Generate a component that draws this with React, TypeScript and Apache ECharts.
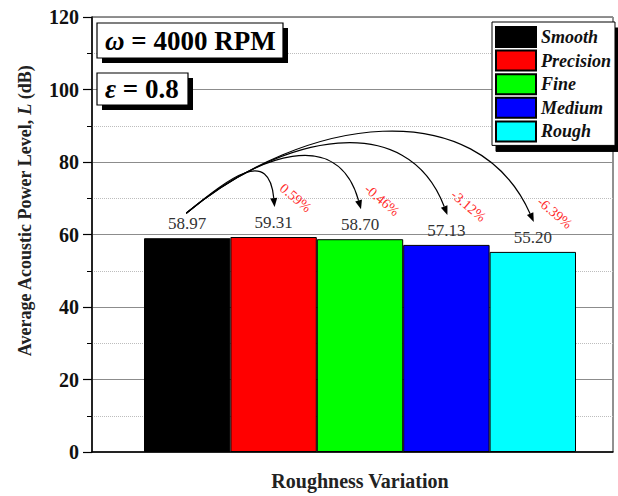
import React, { useEffect, useRef } from 'react';
import * as echarts from 'echarts';

const categories = ['Smooth', 'Precision', 'Fine', 'Medium', 'Rough'];
const values = [58.97, 59.31, 58.7, 57.13, 55.2];
const barColors = ['#000000', '#ff0000', '#00ff00', '#0000ff', '#00ffff'];
const changeLabels = ['', '0.59%', '-0.46%', '-3.12%', '-6.39%'];
const yMin = 0;
const yMax = 120;
const yInterval = 20;
const xTitle = 'Roughness Variation';
const speedLabel = '4000 RPM';
const eccLabel = '0.8';

const SERIF = '"Liberation Serif", "Times New Roman", serif';

export default function App() {
  const ref = useRef<HTMLDivElement>(null);
  useEffect(() => {
    if (!ref.current) return;
    const chart = echarts.init(ref.current, undefined, { renderer: 'svg' });

    const barSeries = categories.map((name, i) => ({
      name,
      type: 'bar',
      xAxisIndex: 1,
      yAxisIndex: 1,
      stack: 'rough',
      barWidth: '100%',
      data: values.map((v, j) => (j === i ? v : '-')),
      itemStyle: { color: barColors[i], borderColor: '#000', borderWidth: 1 },
      label: {
        show: true,
        position: 'top',
        distance: 6,
        formatter: (p: any) => Number(p.value).toFixed(2),
        fontFamily: SERIF,
        fontSize: 17,
        color: '#333',
      },
    }));

    const arrowData = values.map((v, i) => [i, v]).slice(1);

    const arrowSeries = {
      type: 'custom',
      xAxisIndex: 1,
      yAxisIndex: 1,
      clip: false,
      silent: true,
      z: 10,
      data: arrowData,
      renderItem: (params: any, api: any) => {
        const idx = api.value(0);
        const v = api.value(1);
        const s = api.coord([0, values[0]]);
        const e = api.coord([idx, v]);
        const x0 = s[0] - 1;
        const y0 = s[1] - 25;
        const x3 = e[0] + 1;
        const y3 = e[1] - 30;
        const dx = x3 - x0;
        const k = Math.pow(dx / 89, 0.7);
        const c1x = x0 + 46 * k;
        const c1y = y0 - 38 * k;
        const c2x = x3 - (0.2 * dx - 12);
        const c2y = y3 - (35 + 0.27 * dx);
        let ax = x3 - c2x;
        let ay = y3 - c2y;
        const len = Math.hypot(ax, ay);
        ax /= len;
        ay /= len;
        const hl = 9;
        const hw = 3.5;
        const bx = x3 - ax * hl;
        const by = y3 - ay * hl;
        const pts = [
          [x3, y3],
          [bx - ay * hw, by + ax * hw],
          [bx + ay * hw, by - ax * hw],
        ];
        return {
          type: 'group',
          children: [
            {
              type: 'bezierCurve',
              shape: { x1: x0, y1: y0, cpx1: c1x, cpy1: c1y, cpx2: c2x, cpy2: c2y, x2: bx, y2: by },
              style: { stroke: '#000', lineWidth: 1.2, fill: 'none' },
            },
            { type: 'polygon', shape: { points: pts }, style: { fill: '#000' } },
            {
              type: 'text',
              x: x3 + 21,
              y: y3 - 9,
              rotation: (-40 * Math.PI) / 180,
              style: {
                text: changeLabels[idx],
                fill: '#ff2a2a',
                font: `14px ${SERIF}`,
                align: 'center',
                verticalAlign: 'middle',
              },
            },
          ],
        };
      },
    };

    const option: any = {
      animation: false,
      grid: [
        { left: 92, right: 5, top: 17, bottom: 44, show: true, borderColor: '#222', borderWidth: 1 },
        { left: 144, right: 42, top: 17, bottom: 44 },
      ],
      xAxis: [
        {
          gridIndex: 0,
          type: 'category',
          data: [''],
          axisLine: { show: true, lineStyle: { color: '#000', width: 1.5 } },
          axisTick: { show: false },
          axisLabel: { show: false },
          splitLine: { show: false },
        },
        {
          gridIndex: 1,
          type: 'category',
          data: categories,
          axisLine: { show: false },
          axisTick: { show: false },
          axisLabel: { show: false },
          splitLine: { show: false },
          name: xTitle,
          nameLocation: 'middle',
          nameGap: 19,
          nameTextStyle: { fontFamily: SERIF, fontWeight: 'bold', fontSize: 20, color: '#222' },
        },
      ],
      yAxis: [
        {
          gridIndex: 0,
          type: 'value',
          min: yMin,
          max: yMax,
          interval: yInterval,
          axisLine: { show: true, lineStyle: { color: '#000', width: 1.5 } },
          axisTick: { show: true, length: 9, lineStyle: { color: '#000', width: 1.2 } },
          minorTick: { show: true, splitNumber: 2, length: 5, lineStyle: { color: '#000' } },
          axisLabel: { fontFamily: SERIF, fontWeight: 'bold', fontSize: 20, color: '#111', margin: 13 },
          splitLine: { show: true, lineStyle: { color: '#8c8c8c', width: 1 } },
          minorSplitLine: { show: true, lineStyle: { color: '#bdbdbd', type: 'dotted', width: 1 } },
        },
        {
          gridIndex: 1,
          type: 'value',
          min: yMin,
          max: yMax,
          interval: yInterval,
          show: false,
          splitLine: { show: false },
        },
      ],
      legend: {
        data: categories,
        orient: 'vertical',
        left: 492,
        top: 22,
        icon: 'rect',
        itemWidth: 40,
        itemHeight: 20,
        itemGap: 1.6,
        padding: [4, 4, 3, 3],
        backgroundColor: '#fff',
        borderColor: '#000',
        borderWidth: 1,
        shadowColor: '#000',
        shadowBlur: 0,
        shadowOffsetX: 4,
        shadowOffsetY: 6,
        selectedMode: false,
        textStyle: {
          fontFamily: SERIF,
          fontStyle: 'italic',
          fontWeight: 'bold',
          fontSize: 18,
          color: '#111',
        },
      },
      graphic: [
        { type: 'rect', z: 100, shape: { x: 102, y: 28, width: 186, height: 35 }, style: { fill: '#000' } },
        { type: 'rect', z: 101, shape: { x: 97, y: 23, width: 186, height: 35 }, style: { fill: '#fff', stroke: '#000', lineWidth: 1.2 } },
        {
          type: 'text',
          z: 102,
          x: 105,
          y: 41,
          style: {
            text: `{i|ω}{n| = ${speedLabel}}`,
            verticalAlign: 'middle',
            rich: {
              i: { fontFamily: SERIF, fontStyle: 'italic', fontWeight: 'bold', fontSize: 27, fill: '#000' },
              n: { fontFamily: SERIF, fontWeight: 'bold', fontSize: 27, fill: '#000' },
            },
          },
        },
        { type: 'rect', z: 100, shape: { x: 102, y: 78, width: 91, height: 32 }, style: { fill: '#000' } },
        { type: 'rect', z: 101, shape: { x: 97, y: 73, width: 91, height: 32 }, style: { fill: '#fff', stroke: '#000', lineWidth: 1.2 } },
        {
          type: 'text',
          z: 102,
          x: 105,
          y: 89,
          style: {
            text: `{i|ε}{n| = ${eccLabel}}`,
            verticalAlign: 'middle',
            rich: {
              i: { fontFamily: SERIF, fontStyle: 'italic', fontWeight: 'bold', fontSize: 27, fill: '#000' },
              n: { fontFamily: SERIF, fontWeight: 'bold', fontSize: 27, fill: '#000' },
            },
          },
        },
        {
          type: 'text',
          z: 102,
          x: 25,
          y: 211,
          rotation: Math.PI / 2,
          style: {
            text: '{b|Average Acoustic Power Level, }{i|L}{b| (dB)}',
            align: 'center',
            verticalAlign: 'middle',
            rich: {
              b: { fontFamily: SERIF, fontWeight: 'bold', fontSize: 18, fill: '#222' },
              i: { fontFamily: SERIF, fontStyle: 'italic', fontWeight: 'bold', fontSize: 18, fill: '#222' },
            },
          },
        },
      ],
      series: [...barSeries, arrowSeries],
    };

    chart.setOption(option);
    return () => chart.dispose();
  }, []);

  return (
    <div
      ref={ref}
      style={{ position: 'fixed', left: 0, top: 0, width: 618, height: 496, background: '#fff' }}
    />
  );
}
